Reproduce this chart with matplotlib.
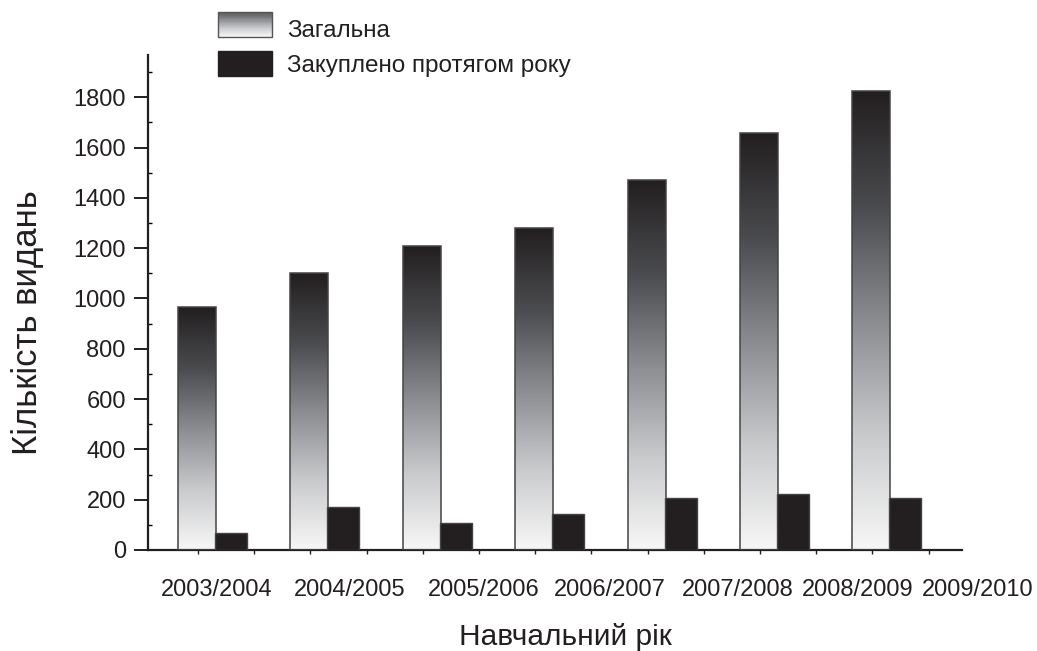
import numpy as np
import matplotlib
matplotlib.use("Agg")
import matplotlib.pyplot as plt
from matplotlib.colors import LinearSegmentedColormap
from matplotlib.patches import Rectangle
from matplotlib.legend_handler import HandlerBase

plt.rcParams['font.family'] = ['Liberation Sans', 'DejaVu Sans']

years = ['2003/2004', '2004/2005', '2005/2006', '2006/2007',
         '2007/2008', '2008/2009', '2009/2010']
total = [965, 1100, 1207, 1280, 1470, 1656, 1823]
bought = [69, 172, 108, 142, 208, 223, 205]

# label centres in axis units (labels in the original are not under the bars)
label_x = [0.169, 1.352, 2.544, 3.665, 4.80, 5.872, 6.94]

grad = LinearSegmentedColormap.from_list(
    'grad', ['#f7f7f7', '#c9cacc', '#8b8c90', '#4a4b4e', '#231f20'])
grad_img = np.linspace(0, 1, 256).reshape(-1, 1)


class GradientHandler(HandlerBase):
    def legend_artist(self, legend, orig_handle, fontsize, handlebox):
        w, h = handlebox.width, handlebox.height
        n = 30
        for k in range(n):
            c = grad(0.72 * (k + 0.5) / n)
            handlebox.add_artist(Rectangle((0, h * k / n), w, h / n,
                                           facecolor=c, edgecolor='none'))
        handlebox.add_artist(Rectangle((0, 0), w, h, facecolor='none',
                                       edgecolor='#555555', lw=1))
        return handlebox


fig = plt.figure(figsize=(10.37, 6.51), dpi=100)
ax = fig.add_axes([148 / 1037, 101 / 651, (962 - 148) / 1037, (596 - 101) / 651])

x = np.arange(len(years))
w1 = 0.338
w2 = 0.285
for xi, h in zip(x, total):
    x0 = xi - 0.178
    ax.imshow(grad_img, cmap=grad, origin='lower', aspect='auto',
              extent=[x0, x0 + w1, 0, h], zorder=2, interpolation='bilinear')
    ax.add_patch(Rectangle((x0, 0), w1, h, facecolor='none',
                           edgecolor='#444444', lw=1.1, zorder=3))
ax.bar(x + 0.151, bought, width=w2, align='edge', color='#231f20',
       edgecolor='#444444', lw=1, zorder=3)

ax.set_xlim(-0.445, 6.797)
ax.set_ylim(0, 1968)

for sp in ['top', 'right']:
    ax.spines[sp].set_visible(False)
for sp in ['left', 'bottom']:
    ax.spines[sp].set_linewidth(1.6)
    ax.spines[sp].set_color('#231f20')

ax.set_yticks(np.arange(0, 1801, 200))
ax.set_yticks(np.arange(100, 1901, 200), minor=True)
ax.tick_params(axis='y', which='major', direction='out', length=10, width=1.4,
               labelsize=17, pad=6, colors='#231f20')
ax.tick_params(axis='y', which='minor', direction='in', length=3, width=1)
ax.set_xticks(np.arange(0, 7, 0.5))
ax.tick_params(axis='x', which='major', direction='out', length=3, width=1,
               labelbottom=False, colors='#231f20')

for lx, lab in zip(label_x, years):
    ax.text(lx, -160, lab, ha='center', va='center', fontsize=17,
            color='#231f20', clip_on=False)

fig.text(565 / 1037, 1 - 637 / 651, 'Навчальний рік', ha='center', va='center',
         fontsize=21.5, color='#231f20')
fig.text(28 / 1037, 1 - 323 / 651, 'Кількість видань', ha='center', va='center',
         rotation=90, fontsize=25, color='#231f20')

h1 = Rectangle((0, 0), 1, 1)
h2 = Rectangle((0, 0), 1, 1, facecolor='#231f20', edgecolor='#231f20')
fig.legend([h1, h2], ['Загальна', 'Закуплено протягом року'],
           handler_map={h1: GradientHandler()},
           loc='upper left', bbox_to_anchor=(218 / 1037, 1 - 16 / 651),
           frameon=False, fontsize=17.5, handlelength=2.22, handleheight=1.2,
           handletextpad=0.62, labelspacing=0.4, borderaxespad=0,
           borderpad=0, labelcolor='#231f20')

fig.savefig('out.png', dpi=100)
